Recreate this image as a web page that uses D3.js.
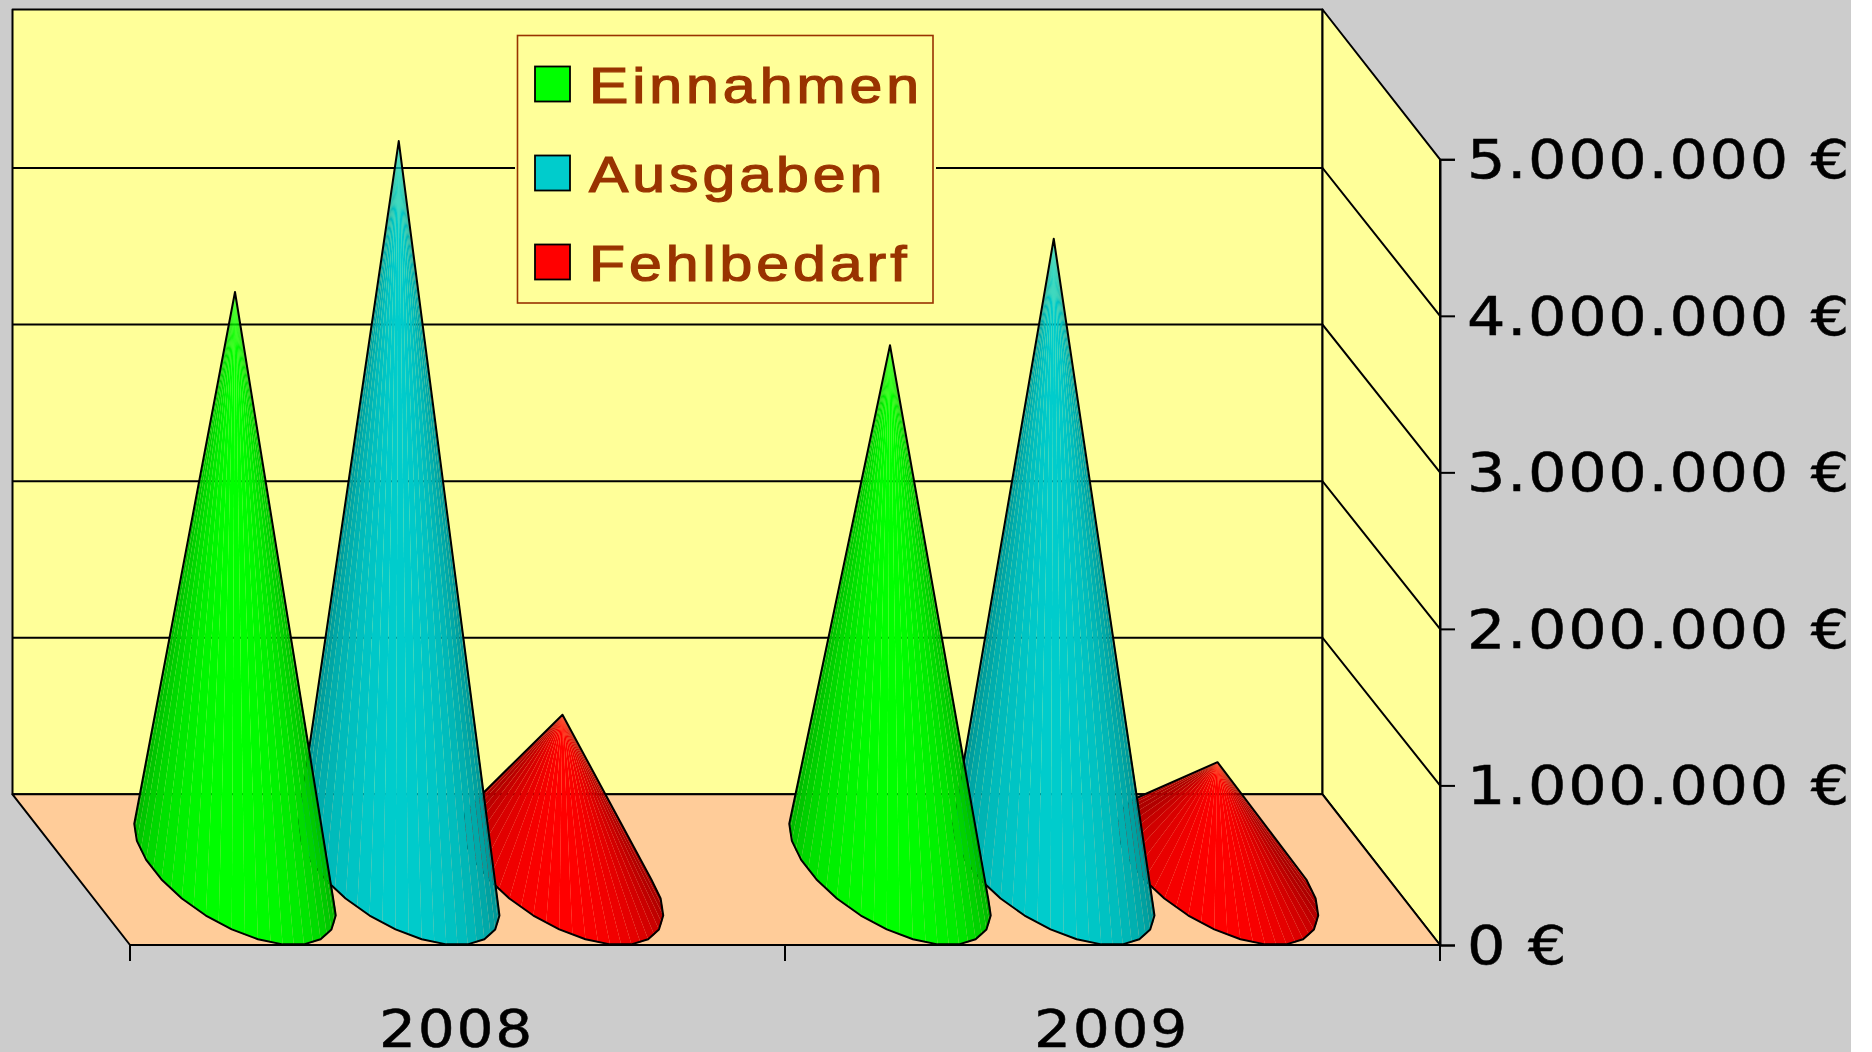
<!DOCTYPE html>
<html><head><meta charset="utf-8">
<script src="https://cdnjs.cloudflare.com/ajax/libs/d3/7.8.5/d3.min.js"></script>
<style>
html,body{margin:0;padding:0;background:#fff;overflow:hidden}
svg{display:block;position:absolute;left:0;top:0}
text{font-family:"DejaVu Sans",sans-serif}
</style></head><body>
<script>
const categories = ["2008","2009"];
const seriesNames = ["Einnahmen","Ausgaben","Fehlbedarf"];
const einnahmen = [3680000,3340000];
const ausgaben  = [4640000,4020000];
const fehlbedarf= [980000,680000];
const seriesValues = [einnahmen,ausgaben,fehlbedarf];
const seriesColors = [[0,255,0],[0,204,204],[255,0,0]];
const yTicks = [0,1000000,2000000,3000000,4000000,5000000];
const gridTicks = [1000000,2000000,3000000,4000000];

const W=1851,H=1052;
const left=130,right=1440,dx=117.5;
const x0=d3.scaleBand().domain(categories).range([left,right]);
const x1=d3.scaleBand().domain(seriesNames).range([0,x0.bandwidth()]).paddingInner(0).paddingOuter(0.5);
const yFront=d3.scaleLinear().domain([0,1e6,5e6]).range([945,785.4,159.3]);
const yBack =d3.scaleLinear().domain([0,4e6,5e6]).range([794.3,168,9.5]);
const depth=d3.scaleLinear().domain([0,1]).range([0,1]);
const px=(X,Z)=>X-dx*depth(Z);
const py=(v,Z)=>yFront(v)+(yBack(v)-yFront(v))*depth(Z);
const svg=d3.select("body").append("svg").attr("width",W).attr("height",H);
svg.append("rect").attr("width",W).attr("height",H).attr("fill","#CCCCCC");

const black="#000";
const poly=(pts,fill)=>svg.append("polygon").attr("points",pts.map(p=>p.join(",")).join(" ")).attr("fill",fill).attr("stroke",black).attr("stroke-width",2).attr("stroke-linejoin","round");
poly([[px(left,1),py(0,1)],[px(left,1),py(5e6,1)],[px(right,1),py(5e6,1)],[px(right,1),py(0,1)]],"#FFFF99");
poly([[px(right,1),py(0,1)],[px(right,1),py(5e6,1)],[px(right,0),py(5e6,0)],[px(right,0),py(0,0)]],"#FFFF99");
poly([[px(left,0),py(0,0)],[px(left,1),py(0,1)],[px(right,1),py(0,1)],[px(right,0),py(0,0)]],"#FFCC99");
const grid=svg.append("g").attr("stroke",black).attr("stroke-width",2);
gridTicks.forEach(v=>{
  grid.append("polyline").attr("fill","none").attr("points",`${px(left,1)},${py(v,1)} ${px(right,1)},${py(v,1)} ${px(right,0)},${py(v,0)}`);
});
// value axis
const sx=1.14, sxCat=1.12;
const fmt=d3.formatLocale({decimal:",",thousands:".",grouping:[3],currency:["","€"]}).format(",.0f");
const ax=svg.append("g").attr("transform",`translate(${right},0)`).call(d3.axisRight(yFront).tickValues(yTicks).tickSize(15).tickPadding(13).tickFormat(d=>fmt(d)+" €"));
ax.select(".domain").attr("stroke-width",2).attr("stroke",black);
ax.selectAll(".tick line").attr("stroke-width",2).attr("stroke",black);
ax.selectAll("text").attr("font-size",53).attr("fill",black).attr("stroke",black).attr("stroke-width",0.5)
  .attr("x",27/sx).attr("y",1.5).attr("transform",`scale(${sx},1)`)
  .attr("style",'font-family:"DejaVu Sans";letter-spacing:1.5px');
// category axis
const catTicks=[left,x0(categories[1]),right];
svg.append("g").selectAll("line").data(catTicks).join("line").attr("x1",d=>d).attr("x2",d=>d).attr("y1",yFront(0)).attr("y2",yFront(0)+16).attr("stroke",black).attr("stroke-width",2);
svg.append("line").attr("x1",left).attr("x2",right).attr("y1",yFront(0)).attr("y2",yFront(0)).attr("stroke",black).attr("stroke-width",2);
svg.append("g").selectAll("text").data(categories).join("text")
  .attr("transform",d=>`translate(${x0(d)+x0.bandwidth()/2-1},1047) scale(${sxCat},1)`)
  .attr("text-anchor","middle").attr("font-size",52).attr("stroke",black).attr("stroke-width",0.5)
  .attr("style",'letter-spacing:1.5px').text(d=>d);

// cones: rightmost first so that the left ones overlap
const rad=x1.step()/2;
const TAU=Math.PI*2;
const viewAngle=234*Math.PI/180;
function cone(g,cat,i,value,col){
  const cx=x0(cat)+x1(seriesNames[i])+x1.bandwidth()/2;
  const Zof=t=>0.5+0.5*Math.sin(t);
  const base=t=>[px(cx+rad*Math.cos(t),Zof(t)),py(0,Zof(t))];
  const apex=[px(cx,0.5),py(value,0.5)];
  const n=48;
  const shade=d3.range(n).map(k=>{
    const t0=k/n*TAU,t1=(k+1)/n*TAU,tm=(t0+t1)/2;
    const c=Math.cos(tm-viewAngle);
    return {t0,t1,f:0.68+0.32*Math.max(0,c)};
  }).filter(d=>d3.polygonArea([apex,base(d.t0),base(d.t1)])>0);
  g.selectAll(null).data(shade).join("polygon")
    .attr("points",d=>[apex,base(d.t0),base(d.t1)].map(p=>p.join(",")).join(" "))
    .attr("fill",d=>`rgb(${col.map(c=>Math.round(c*d.f)).join(",")})`);
  const coarse=d3.range(24).map(k=>base((k+0.5)/24*TAU));
  const hull=d3.polygonHull(coarse.concat([apex]));
  g.append("polygon").attr("points",hull.map(p=>p.join(",")).join(" ")).attr("fill","none").attr("stroke",black).attr("stroke-width",2).attr("stroke-linejoin","round");
}
const cones=svg.append("g");
categories.forEach((cat,ci)=>{
  for(let i=seriesNames.length-1;i>=0;i--) cone(cones.append("g"),cat,i,seriesValues[i][ci],seriesColors[i]);
});

// legend
const lg=svg.append("g");
lg.append("rect").attr("x",515).attr("y",33).attr("width",421).attr("height",272).attr("fill","#FFFF99");
lg.append("rect").attr("x",517.5).attr("y",35.5).attr("width",415.5).attr("height",267.5).attr("fill","#FFFF99").attr("stroke","#993300").attr("stroke-width",1.6);
const legY=d3.scalePoint().domain(seriesNames).range([84,262]);
lg.selectAll("rect.s").data(seriesNames).join("rect").attr("class","s").attr("x",535).attr("y",d=>legY(d)-17.5).attr("width",35).attr("height",35)
  .attr("fill",(d,i)=>`rgb(${seriesColors[i].join(",")})`).attr("stroke",black).attr("stroke-width",1.8);
lg.selectAll("text").data(seriesNames).join("text")
  .attr("transform",d=>`translate(589,${legY(d)+19}) scale(1.18,1)`).attr("font-size",50)
  .attr("fill","#993300").attr("stroke","#993300").attr("stroke-width",1.2)
  .attr("style",'font-family:"Liberation Sans";letter-spacing:3.35px').text(d=>d);
</script>
</body></html>
